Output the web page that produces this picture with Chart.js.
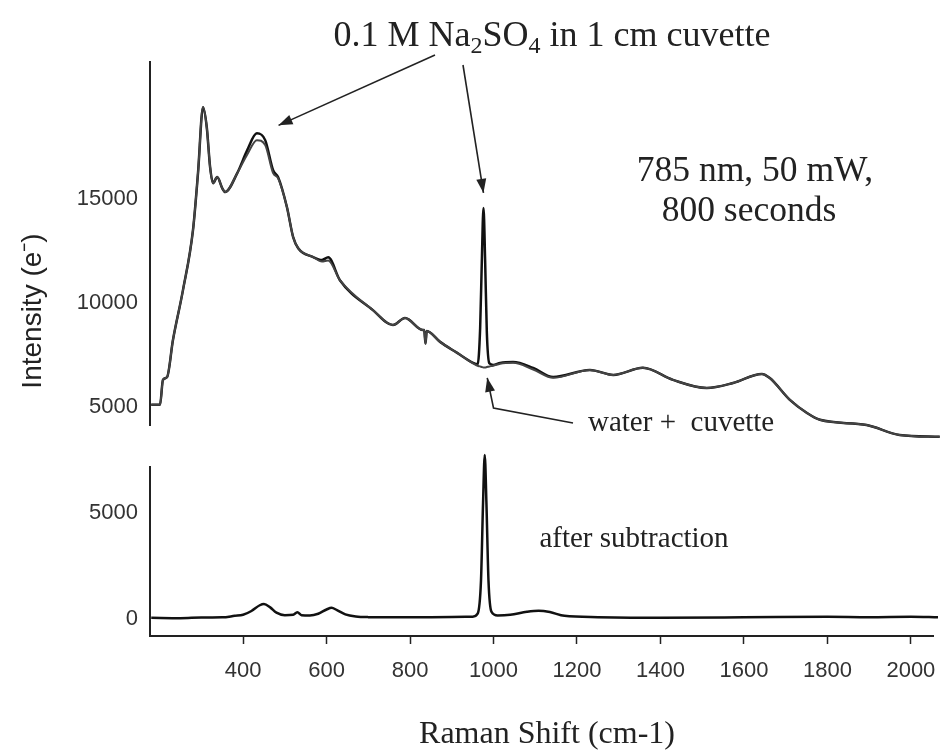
<!DOCTYPE html>
<html lang="en">
<head>
    <meta charset="UTF-8">
    <title>Raman spectrum of Na2SO4</title>
    <style>
        body { margin: 0; background: #fff; }
        #wrap { position: relative; width: 950px; height: 752px; background: #fff; }
        #wrap canvas { position: absolute; left: 0; top: 0; }
    </style>
    <script src="https://cdn.jsdelivr.net/npm/chart.js"></script>
</head>
<body>
    <div id="wrap">
        <canvas id="upperChart" width="950" height="752"></canvas>
        <canvas id="lowerChart" width="950" height="752"></canvas>
    </div>
    <script>
        // Raman shift (cm-1) for the two raw spectra in the upper panel
        const ramanShift = [180, 201, 208, 218, 232, 256, 280, 292, 304, 313, 321, 328, 338, 350, 357, 386, 410, 433, 453, 472, 484, 505, 520, 532, 568, 589, 604, 632, 711, 759, 788, 831, 834, 837, 840, 872, 913, 951, 962, 968, 972, 976, 980, 984, 990, 999, 1016, 1047, 1095, 1143, 1231, 1287, 1358, 1430, 1511, 1574, 1643, 1662, 1710, 1751, 1782, 1894, 1973, 2069];
        // 0.1 M Na2SO4 in cuvette
        const sampleCounts = [5100, 5100, 6300, 6440, 8220, 10620, 13510, 16250, 19420, 18460, 16540, 15770, 16060, 15530, 15340, 16250, 17360, 18170, 17840, 16390, 16060, 14620, 13170, 12640, 12210, 12070, 12200, 11100, 9660, 8940, 9280, 8700, 8700, 8050, 8650, 8130, 7600, 7120, 7050, 8800, 12000, 14570, 12000, 8600, 7100, 7020, 7120, 7160, 6880, 6440, 6780, 6540, 6880, 6300, 5910, 6150, 6590, 6390, 5340, 4710, 4380, 4130, 3650, 3560];
        // water + cuvette
        const waterCounts = [5100, 5100, 6300, 6440, 8220, 10620, 13510, 16250, 19420, 18460, 16540, 15770, 16060, 15530, 15340, 16250, 17150, 17840, 17600, 16250, 16000, 14620, 13170, 12640, 12210, 12000, 12050, 11100, 9660, 8940, 9280, 8700, 8700, 8050, 8650, 8130, 7600, 7100, 6980, 6950, 6920, 6900, 6900, 6920, 6950, 6980, 7080, 7120, 6800, 6400, 6780, 6540, 6880, 6300, 5910, 6150, 6590, 6390, 5340, 4710, 4380, 4130, 3650, 3560];

        // after subtraction (lower panel)
        const diffShift = [180, 250, 300, 350, 380, 400, 420, 440, 450, 465, 480, 500, 520, 530, 540, 560, 580, 600, 612, 625, 645, 670, 700, 800, 900, 950, 962, 970, 975, 979, 983, 988, 995, 1010, 1040, 1080, 1108, 1135, 1170, 1250, 1400, 1600, 1800, 1900, 2000, 2065];
        const diffCounts = [60, 40, 70, 80, 150, 200, 380, 650, 710, 550, 300, 180, 200, 320, 180, 170, 250, 450, 530, 420, 220, 120, 90, 80, 100, 110, 250, 1800, 5500, 7740, 5500, 1800, 350, 170, 200, 340, 390, 330, 150, 90, 60, 80, 110, 90, 110, 80];

        const shiftTicks = [400, 600, 800, 1000, 1200, 1400, 1600, 1800, 2000];
        const upperTicks = [5000, 10000, 15000];
        const lowerTicks = [0, 5000];

        const ink = '#222';
        const serif = "'Liberation Serif', 'Times New Roman', serif";
        const sans = "'Liberation Sans', Arial, sans-serif";

        function toPoints(xs, ys) {
            return xs.map((v, i) => ({ x: v, y: ys[i] }));
        }

        function fixedTicks(list) {
            return function (scale) {
                scale.ticks = list.map(v => ({ value: v }));
            };
        }

        // plain numbers, no thousands separator
        const plain = v => String(v);

        function drawArrow(ctx, pts) {
            ctx.save();
            ctx.strokeStyle = ink;
            ctx.fillStyle = ink;
            ctx.lineWidth = 1.6;
            ctx.beginPath();
            ctx.moveTo(pts[0][0], pts[0][1]);
            for (let i = 1; i < pts.length; i++) ctx.lineTo(pts[i][0], pts[i][1]);
            ctx.stroke();
            const [tx, ty] = pts[pts.length - 1];
            const [px, py] = pts[pts.length - 2];
            const a = Math.atan2(ty - py, tx - px);
            const len = 14, half = 5;
            ctx.beginPath();
            ctx.moveTo(tx, ty);
            ctx.lineTo(tx - len * Math.cos(a) + half * Math.sin(a), ty - len * Math.sin(a) - half * Math.cos(a));
            ctx.lineTo(tx - len * Math.cos(a) - half * Math.sin(a), ty - len * Math.sin(a) + half * Math.cos(a));
            ctx.closePath();
            ctx.fill();
            ctx.restore();
        }

        // title with subscripts, drawn piece by piece
        function drawTitle(ctx, cx, baseline) {
            const size = 36;
            const parts = [['0.1 M Na', false], ['2', true], ['SO', false], ['4', true], [' in 1 cm cuvette', false]];
            const fontFor = sub => (sub ? Math.round(size * 0.68) : size) + 'px ' + serif;
            let total = 0;
            parts.forEach(([t, sub]) => { ctx.font = fontFor(sub); total += ctx.measureText(t).width; });
            let x = cx - total / 2;
            ctx.textAlign = 'left';
            ctx.textBaseline = 'alphabetic';
            parts.forEach(([t, sub]) => {
                ctx.font = fontFor(sub);
                ctx.fillText(t, x, sub ? baseline + 7 : baseline);
                x += ctx.measureText(t).width;
            });
        }

        const upperNotes = {
            id: 'upperNotes',
            afterDraw(chart) {
                const { ctx, scales: { x, y } } = chart;
                ctx.save();
                ctx.fillStyle = ink;
                drawTitle(ctx, 552, 46);

                ctx.font = '35.5px ' + serif;
                ctx.textAlign = 'center';
                ctx.fillText('785 nm, 50 mW,', 755, 181);
                ctx.fillText('800 seconds', 749, 221);

                ctx.font = '29px ' + serif;
                ctx.textAlign = 'left';
                ctx.fillText('water +  cuvette', 588, 431);

                // y axis title
                ctx.save();
                ctx.translate(33, 311);
                ctx.rotate(-Math.PI / 2);
                ctx.font = '28px ' + sans;
                ctx.textAlign = 'center';
                ctx.textBaseline = 'middle';
                ctx.fillText('Intensity (e\u207B)', 0, 0);
                ctx.restore();

                drawArrow(ctx, [[435, 55], [x.getPixelForValue(485), y.getPixelForValue(18550)]]);
                drawArrow(ctx, [[463, 65], [x.getPixelForValue(976), y.getPixelForValue(15300)]]);
                drawArrow(ctx, [[573, 423], [x.getPixelForValue(1000), y.getPixelForValue(4950)], [x.getPixelForValue(985), y.getPixelForValue(6400)]]);
                ctx.restore();
            }
        };

        const lowerNotes = {
            id: 'lowerNotes',
            afterDraw(chart) {
                const { ctx } = chart;
                ctx.save();
                ctx.fillStyle = ink;
                ctx.textAlign = 'center';
                ctx.textBaseline = 'alphabetic';
                ctx.font = '29px ' + serif;
                ctx.fillText('after subtraction', 634, 547);
                ctx.font = '32px ' + serif;
                ctx.fillText('Raman Shift (cm-1)', 547, 743);
                ctx.restore();
            }
        };

        const lineStyle = {
            pointRadius: 0,
            fill: false,
            clip: false,
            cubicInterpolationMode: 'monotone'
        };

        const xRange = { min: 177, max: 2053 };
        const tickFont = { family: sans, size: 22 };

        new Chart(document.getElementById('upperChart'), {
            type: 'line',
            data: {
                datasets: [
                    Object.assign({ label: 'water + cuvette', data: toPoints(ramanShift, waterCounts), borderColor: '#444', borderWidth: 2 }, lineStyle),
                    Object.assign({ label: '0.1 M Na2SO4', data: toPoints(ramanShift, sampleCounts), borderColor: '#111', borderWidth: 2.5 }, lineStyle)
                ]
            },
            options: {
                responsive: false,
                animation: false,
                events: [],
                layout: { padding: { top: 62, bottom: 327, left: 0, right: 17 } },
                plugins: { legend: { display: false }, tooltip: { enabled: false } },
                scales: {
                    x: { type: 'linear', min: xRange.min, max: xRange.max, display: false },
                    y: {
                        type: 'linear', min: 4130, max: 21600,
                        afterBuildTicks: fixedTicks(upperTicks),
                        afterFit: s => { s.width = 150; },
                        border: { display: true, color: ink, width: 2 },
                        grid: { drawOnChartArea: false, drawTicks: false },
                        ticks: { color: '#333', padding: 12, font: tickFont, callback: plain }
                    }
                }
            },
            plugins: [upperNotes]
        });

        new Chart(document.getElementById('lowerChart'), {
            type: 'line',
            data: {
                datasets: [
                    Object.assign({ label: 'after subtraction', data: toPoints(diffShift, diffCounts), borderColor: '#111', borderWidth: 2.5 }, lineStyle)
                ]
            },
            options: {
                responsive: false,
                animation: false,
                events: [],
                layout: { padding: { top: 467, bottom: 56, left: 0, right: 17 } },
                plugins: { legend: { display: false }, tooltip: { enabled: false } },
                scales: {
                    x: {
                        type: 'linear', min: xRange.min, max: xRange.max,
                        afterBuildTicks: fixedTicks(shiftTicks),
                        afterFit: s => { s.height = 60; },
                        border: { display: true, color: ink, width: 2 },
                        grid: { drawOnChartArea: false, drawTicks: true, tickLength: 8, color: ink, tickWidth: 1.5 },
                        ticks: { color: '#333', padding: 14, maxRotation: 0, font: tickFont, callback: plain }
                    },
                    y: {
                        type: 'linear', min: -800, max: 7170,
                        afterBuildTicks: fixedTicks(lowerTicks),
                        afterFit: s => { s.width = 150; },
                        border: { display: true, color: ink, width: 2 },
                        grid: { drawOnChartArea: false, drawTicks: false },
                        ticks: { color: '#333', padding: 12, font: tickFont, callback: plain }
                    }
                }
            },
            plugins: [lowerNotes]
        });
    </script>
</body>
</html>
